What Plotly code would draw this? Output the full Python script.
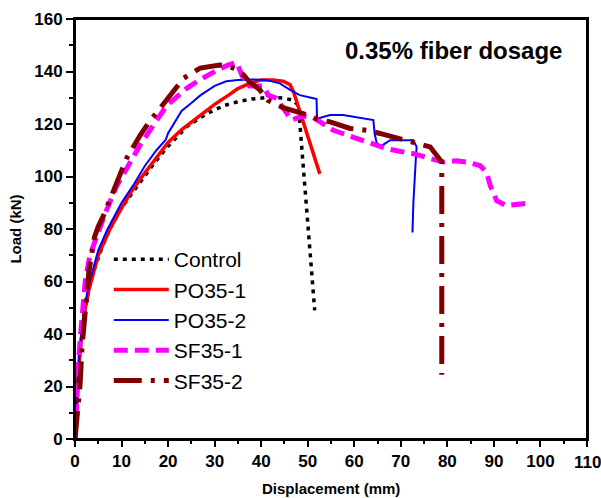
import plotly.graph_objects as go

# Load-displacement data (mm, kN)
control_x = [0, 0.3, 0.6, 1, 1.5, 2, 3, 4, 5, 6, 7.5, 10, 12, 14, 17, 19.7, 22, 24, 27, 29, 32, 35, 38, 40, 42, 45, 47, 48, 48.3, 48.7, 49, 49.4, 49.8, 50.2, 50.5, 51, 51.5]
control_y = [0, 12, 22, 32, 41, 48, 57, 64, 69, 74, 80, 88, 93, 98, 105, 111, 115.5, 119, 122.5, 124.5, 127, 128.5, 129.5, 130, 130.2, 129.8, 129, 127, 120, 112, 105, 95, 85, 78, 71, 60, 49]

po1_x = [0, 0.3, 0.6, 1, 1.5, 2, 3, 4, 5, 6, 7.5, 10, 12, 14, 17, 20, 23, 27, 30, 33, 35, 37.5, 40, 42.5, 44.7, 46.2, 47, 52.6]
po1_y = [0, 12, 22, 32, 41, 48, 57, 64, 70, 74, 80, 88, 94, 99, 106, 113, 118, 123.5, 127.5, 131, 133.5, 135.5, 136.8, 136.8, 136.3, 135, 132, 101]

po2_x = [0, 0.3, 0.6, 1, 1.5, 2, 3, 4, 5, 7, 10, 12.5, 15, 17.5, 19.5, 20, 22.9, 25, 27, 30, 32.5, 35, 38, 41, 44, 46.2, 48.3, 51.2, 51.9, 52, 54.8, 57.6, 61, 64.1, 64.4, 64.8, 65.5, 67.7, 72.7, 73.4, 73.2, 73, 72.7, 72.5]
po2_y = [0, 14, 24, 34, 43, 50, 59, 66, 72, 80, 90, 96.6, 104, 110, 114, 116.5, 125, 128, 131, 134.5, 136.3, 136.8, 137, 136.8, 135.5, 133, 131, 129.8, 129.5, 122, 123.4, 123.4, 122.5, 121.5, 116, 113, 111.3, 113.8, 113.8, 111.3, 106, 100, 90, 78.7]

sf1_x = [0, 0.2, 0.5, 0.8, 1.2, 1.6, 2.2, 3.2, 4, 5, 6.5, 9, 11, 14, 17, 19.7, 22, 24, 26.5, 29, 31, 33, 34.7, 36, 37.5, 40.5, 41.5, 43.3, 45.8, 46.5, 49, 51.2, 55.5, 58, 61.2, 64, 67, 70, 72.7, 76, 79.1, 82, 84.1, 87, 88.4, 89.2, 90.6, 92.7, 95, 97]
sf1_y = [0, 10, 20, 30, 40, 50, 60, 70, 74, 79, 86, 96.6, 103, 112, 120, 127, 130.5, 133.6, 136.5, 139.3, 141, 142.5, 143.5, 138, 134.5, 134.5, 131, 129.8, 123, 121.5, 123, 122.5, 117.6, 116, 114.4, 112.5, 110.6, 109.5, 108.7, 107, 105.5, 106, 105.5, 104.2, 101.7, 96.6, 90.8, 88.9, 89.5, 89.8]

sf2_x = [0, 0.3, 0.5, 0.8, 1.1, 1.5, 2.1, 3, 4.2, 5, 6.1, 8.2, 9, 11.1, 14, 16, 18.3, 21, 23.3, 26.9, 29, 31.1, 33, 34.5, 36.2, 37.5, 39.7, 41.5, 44.7, 49, 51.9, 54.8, 59.1, 62.7, 65.5, 69.8, 73, 76.3, 78.8, 78.8]
sf2_y = [0, 5, 10, 15, 21, 35, 49, 64, 77, 81, 85, 94, 97.9, 107, 115.7, 121, 126, 132, 137.4, 141.3, 142, 142.5, 142, 141, 138.7, 136, 133, 129, 126.2, 124, 122, 120.8, 118.3, 117.6, 116.4, 114.4, 113.2, 111.3, 105.5, 24.5]

x_ticks = [0, 10, 20, 30, 40, 50, 60, 70, 80, 90, 100, 110]
y_ticks = [0, 20, 40, 60, 80, 100, 120, 140, 160]

FONT = "Liberation Sans, Arial, sans-serif"
TICKFONT = dict(family=FONT, size=17, color="black", weight="bold")
TITLEFONT = dict(family=FONT, size=15, color="black", weight="bold")

fig = go.Figure()

series = [
    ("Control", control_x, control_y, dict(color="black", width=3.5, dash="4px,5px")),
    ("PO35-1", po1_x, po1_y, dict(color="#ff0000", width=3.5)),
    ("PO35-2", po2_x, po2_y, dict(color="#0000ff", width=2)),
    ("SF35-1", sf1_x, sf1_y, dict(color="#ff00ff", width=5, dash="14px,7px")),
    ("SF35-2", sf2_x, sf2_y, dict(color="#800000", width=5, dash="28px,9px,4px,9px")),
]
for name, xs, ys, ln in series:
    fig.add_trace(go.Scatter(x=xs, y=ys, mode="lines", name=name, line=ln))

axis_common = dict(
    showgrid=False, zeroline=False,
    showline=True, linecolor="black", linewidth=2, mirror=True,
    ticks="outside", tickwidth=2, tickcolor="black",
    tickfont=TICKFONT,
)

# last x label is placed as an annotation so it does not shrink the plot area
x_text = [str(v) for v in x_ticks[:-1]] + [""]
fig.update_xaxes(
    range=[0, 110], tickvals=x_ticks, ticktext=x_text, ticklen=6,
    minor=dict(ticks="outside", ticklen=3, tickwidth=2, tickcolor="black", dtick=5, tick0=0),
    **axis_common,
)
fig.update_yaxes(
    range=[0, 160], tickvals=y_ticks, ticklen=7,
    minor=dict(ticks="outside", ticklen=4, tickwidth=2, tickcolor="black", dtick=10, tick0=0),
    title=dict(text="Load (kN)", standoff=9, font=TITLEFONT),
    **axis_common,
)

# box frame around the plot area
fig.add_shape(type="rect", xref="paper", yref="paper", x0=0, y0=0, x1=1, y1=1,
              line=dict(color="black", width=2), layer="above")

fig.add_annotation(text=str(x_ticks[-1]), xref="paper", yref="paper", x=1, y=-0.055,
                   xanchor="center", yanchor="middle", showarrow=False, font=TICKFONT)
fig.add_annotation(text="Displacement (mm)", xref="paper", yref="paper", x=0.5, y=-0.117,
                   xanchor="center", yanchor="middle", showarrow=False, font=TITLEFONT)

fig.add_annotation(
    text="0.35% fiber dosage", xref="paper", yref="paper",
    x=0.74, y=0.924, xanchor="center", yanchor="middle", showarrow=False,
    font=dict(family=FONT, size=24, color="black", weight="bold"),
)

# top margin is left a bit short on purpose; the top tick label pushes it out
fig.update_layout(
    width=601, height=498,
    margin=dict(l=75, r=14, t=10, b=59),
    paper_bgcolor="white", plot_bgcolor="white",
    legend=dict(
        x=0.066, y=0.283, xanchor="left", yanchor="middle",
        bgcolor="rgba(0,0,0,0)", borderwidth=0,
        font=dict(family=FONT, size=21, color="black"),
        itemwidth=55, tracegroupgap=0,
    ),
    showlegend=True,
)

# drop the default 8px page margin so the figure fills the window
fig.write_html("out.html", config={"displayModeBar": False},
               post_script="document.body.style.margin='0px';")
